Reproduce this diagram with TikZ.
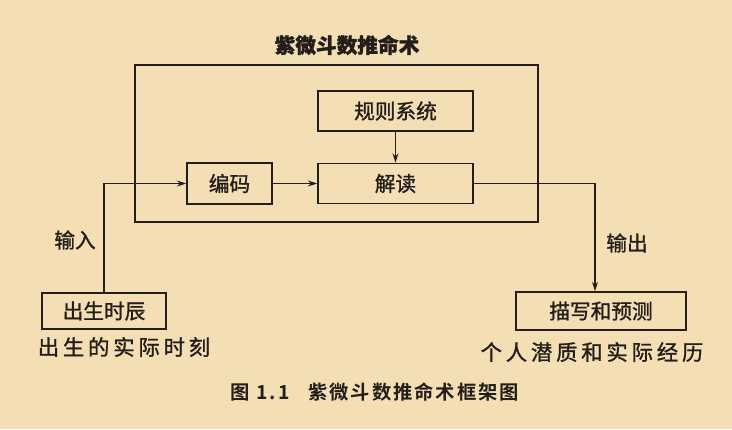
\documentclass[tikz,border=0pt]{standalone}
\usepackage{fontspec}
\setmainfont{Noto Sans CJK SC}[FakeBold=1.2]
\newfontfamily\cjkwide{Noto Sans CJK SC}[LetterSpace=18, FakeBold=1.2]
\newfontfamily\cjkcap{Noto Sans CJK SC}[LetterSpace=10, BoldFont={Noto Sans CJK SC Bold}]
\usetikzlibrary{arrows.meta}
\definecolor{paper}{RGB}{244,222,180}
\definecolor{ink}{RGB}{35,30,25}
\begin{document}
\begin{tikzpicture}[x=0.75pt,y=-0.75pt,
  every node/.style={text=ink},
  box/.style={draw=ink, line width=1.3pt, inner sep=0pt, font=\fontsize{15.5}{18}\selectfont},
  conn/.style={draw=ink, line width=1pt, -{Stealth[length=7pt,width=4.5pt]}},
  lbl/.style={font=\fontsize{15.5}{18}\selectfont},
  sub/.style={font=\cjkwide\fontsize{16}{18}\selectfont}]
\fill[paper] (0,0) rectangle (732,429);
\useasboundingbox (0,0) rectangle (732,429);
\node[draw=ink, line width=1.2pt, minimum width=403*0.75pt, minimum height=157*0.75pt] (frame) at (336.5,143.5) {};
\node[font=\bfseries\fontsize{15.5}{18}\selectfont] (title) at (347,45) {紫微斗数推命术};
\node[box, minimum width=155*0.75pt, minimum height=40*0.75pt] (rules) at (395.5,111) {规则系统};
\node[box, minimum width=155*0.75pt, minimum height=40*0.75pt] (decode) at (395.5,183.5) {解读};
\node[box, minimum width=85*0.75pt, minimum height=41*0.75pt] (encode) at (229.5,183.5) {编码};
\node[box, minimum width=124*0.75pt, minimum height=36*0.75pt] (birth) at (104,311) {出生时辰};
\node[box, minimum width=170*0.75pt, minimum height=38*0.75pt] (desc) at (601,311) {描写和预测};
\node[sub] (birthtxt) at (124,347) {出生的实际时刻};
\node[sub] (desctxt) at (592,352) {个人潜质和实际经历};
\node[lbl] (inlbl) at (75,240) {输入};
\node[lbl] (outlbl) at (627,243) {输出};
\node[font=\cjkcap\bfseries\fontsize{14.5}{17}\selectfont] (caption) at (375,392) {图 1.1\hspace{14pt}紫微斗数推命术框架图};
\coordinate (outdrop) at ([xshift=-4.5pt]desc.north);
\draw[conn] (birth.north) |- (encode.west);
\draw[conn] (encode.east) -- (decode.west);
\draw[conn] (rules.south) -- (decode.north);
\draw[conn] (decode.east) -| (outdrop);
\end{tikzpicture}
\end{document}
